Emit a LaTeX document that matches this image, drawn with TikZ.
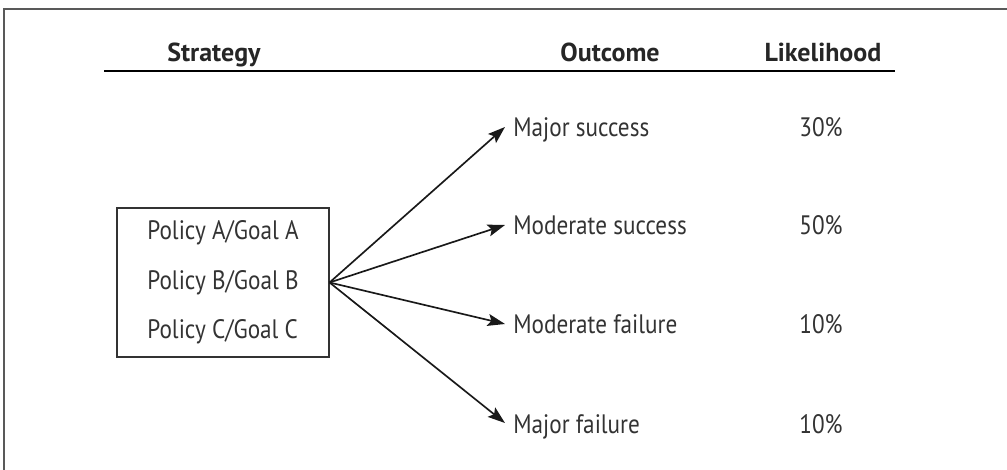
\documentclass[tikz,border=0pt]{standalone}
\usepackage{fontspec}
\setmainfont{PT Sans}
\newfontfamily\bodyfont{PT Sans}[FakeStretch=0.87]
\usetikzlibrary{arrows.meta}
\tikzstyle{frame} = [draw=black!65, line width=1.5pt]
\tikzstyle{head} = [font=\bfseries\fontsize{19.5}{22}\selectfont, text=black!85, inner sep=0pt, anchor=base]
\tikzstyle{strat} = [draw=black!80, line width=0.8pt, font=\bodyfont\fontsize{20}{37}\selectfont, text=black!80,%
	minimum width=159pt, minimum height=111.75pt, align=left]
\tikzstyle{outcome} = [font=\bodyfont\fontsize{20}{24}\selectfont, text=black!80, text height=15pt, text depth=0pt,%
	inner xsep=6pt, inner ysep=0pt, anchor=base west]
\tikzstyle{chance} = [font=\bodyfont\fontsize{20}{24}\selectfont, text=black!80, inner sep=0pt, anchor=base]
\tikzstyle{branch} = [-{Stealth[length=13pt, width=9pt, inset=2.5pt]}, line width=1.25pt, black!90]

\begin{document}
\begin{tikzpicture}[x=0.75pt, y=-0.75pt]%
	\useasboundingbox (0,0) rectangle (1007,470);%
	\draw[frame] (4,470) -- (4,9.5) -- (1007,9.5);%
	% column heads
	\node[head] (hstrat) at (214,62) {Strategy};%
	\node[head] (hout) at (610,62) {Outcome};%
	\node[head] (hlike) at (823,62) {Likelihood};%
	\draw[line width=1.5pt] (104,71) -- (895,71);%
	% strategies
	\node[strat] (strat) at (223,282.5) {Policy A/Goal A\\Policy B/Goal B\\Policy C/Goal C};%
	% outcomes and likelihoods
	\foreach \name/\txt/\pct/\y in {1/Major success/30/137, 2/Moderate success/50/235,%
		3/Moderate failure/10/334, 4/Major failure/10/433} {%
		\node[outcome] (out\name) at (505,\y) {\txt};%
		\node[chance] (like\name) at (821,\y) {\pct\%};%
		\draw[branch] (strat.east) -- (out\name.west);%
	}%
\end{tikzpicture}
\end{document}
